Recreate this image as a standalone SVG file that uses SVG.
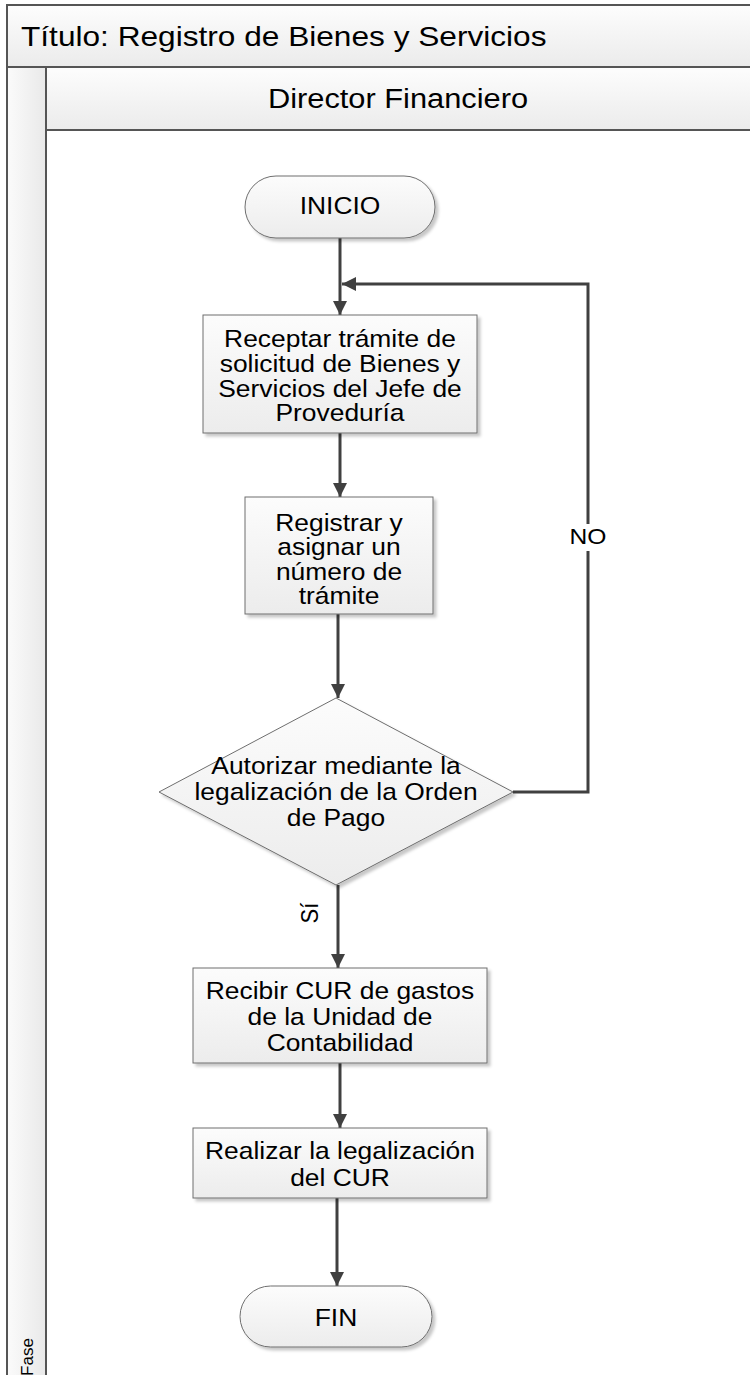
<svg xmlns="http://www.w3.org/2000/svg" width="750" height="1375" viewBox="0 0 750 1375">
<defs>
<linearGradient id="gV" x1="0" y1="0" x2="0" y2="1"><stop offset="0" stop-color="#fdfdfd"/><stop offset="1" stop-color="#ebebeb"/></linearGradient>
<linearGradient id="gH" x1="0" y1="0" x2="1" y2="0"><stop offset="0" stop-color="#fbfbfb"/><stop offset="1" stop-color="#e9e9e9"/></linearGradient>
<linearGradient id="gS" x1="0" y1="0" x2="0" y2="1"><stop offset="0" stop-color="#fcfcfc"/><stop offset="1" stop-color="#ececec"/></linearGradient>
<filter id="sh" x="-10%" y="-10%" width="130%" height="130%"><feDropShadow dx="3" dy="3" stdDeviation="1.5" flood-color="#000" flood-opacity="0.22"/></filter>
<marker id="ar" viewBox="0 0 10 10" refX="10" refY="5" markerWidth="14" markerHeight="16" markerUnits="userSpaceOnUse" orient="auto"><path d="M0,0 L10,5 L0,10 z" fill="#404040"/></marker>
<style>
.frame{stroke:#555;stroke-width:2}
.shape{fill:url(#gS);stroke:#6e6e6e;stroke-width:1;filter:url(#sh)}
.t{font-family:'Liberation Sans',Arial,sans-serif;font-size:24px;text-anchor:middle;fill:#000}
.big{font-size:28px}
.conn{fill:none;stroke:#404040;stroke-width:3;marker-end:url(#ar)}
</style>
</defs>
<g id="pool">
<rect class="frame" x="7" y="5" width="760" height="62" fill="url(#gV)"/>
<text class="t big" style="text-anchor:start" transform="translate(21,46) scale(1.13,1)">Título: Registro de Bienes y Servicios</text>
<rect class="frame" x="7" y="67" width="39" height="1330" fill="url(#gH)"/>
<rect class="frame" x="46" y="67" width="720" height="63" fill="url(#gV)"/>
<text class="t big" transform="translate(398,108) scale(1.1,1)">Director Financiero</text>
<rect class="frame" x="46" y="130" width="720" height="1270" fill="#fff"/>
<text transform="translate(33,1357) rotate(-90)" style="font-family:'Liberation Sans Narrow','Liberation Sans',Arial,sans-serif;font-size:17px;text-anchor:middle;fill:#000">Fase</text>
</g>
<g id="connectors">
<path class="conn" d="M340,238 V315"/>
<path class="conn" d="M513,792 H588 V284 H342"/>
<path class="conn" d="M340,433 V497"/>
<path class="conn" d="M338,614 V698"/>
<path class="conn" d="M338,885 V968"/>
<path class="conn" d="M340,1063 V1128"/>
<path class="conn" d="M337,1198 V1286"/>
<rect x="572" y="524" width="32" height="27" fill="#fff"/>
<text class="t" style="font-size:22px" transform="translate(588,544) scale(1.12,1)">NO</text>
<text class="t" style="font-size:22px" transform="translate(318,913) scale(1.12,1) rotate(-90)">Sí</text>
</g>
<g id="inicio">
<rect class="shape" x="245" y="176" width="190" height="62" rx="31" ry="31"/>
<text class="t" transform="translate(340,214) scale(1.1,1)">INICIO</text>
</g>
<g id="receptar">
<rect class="shape" x="203" y="315" width="274" height="118"/>
<text class="t" transform="translate(340,347) scale(1.1,1)">Receptar trámite de</text>
<text class="t" transform="translate(340,372) scale(1.1,1)">solicitud de Bienes y</text>
<text class="t" transform="translate(340,397) scale(1.1,1)">Servicios del Jefe de</text>
<text class="t" transform="translate(340,421) scale(1.1,1)">Proveduría</text>
</g>
<g id="registrar">
<rect class="shape" x="245" y="497" width="188" height="117"/>
<text class="t" transform="translate(339,531) scale(1.1,1)">Registrar y</text>
<text class="t" transform="translate(339,555) scale(1.1,1)">asignar un</text>
<text class="t" transform="translate(339,580) scale(1.1,1)">número de</text>
<text class="t" transform="translate(339,604) scale(1.1,1)">trámite</text>
</g>
<g id="autorizar">
<polygon class="shape" points="336,698 513,792 336,885 159,792"/>
<text class="t" transform="translate(336,774) scale(1.1,1)">Autorizar mediante la</text>
<text class="t" transform="translate(336,800) scale(1.1,1)">legalización de la Orden</text>
<text class="t" transform="translate(336,826) scale(1.1,1)">de Pago</text>
</g>
<g id="recibir">
<rect class="shape" x="193" y="968" width="294" height="95"/>
<text class="t" transform="translate(340,999) scale(1.1,1)">Recibir CUR de gastos</text>
<text class="t" transform="translate(340,1025) scale(1.1,1)">de la Unidad de</text>
<text class="t" transform="translate(340,1051) scale(1.1,1)">Contabilidad</text>
</g>
<g id="realizar">
<rect class="shape" x="193" y="1128" width="294" height="70"/>
<text class="t" transform="translate(340,1159) scale(1.1,1)">Realizar la legalización</text>
<text class="t" transform="translate(340,1186) scale(1.1,1)">del CUR</text>
</g>
<g id="fin">
<rect class="shape" x="240" y="1286" width="192" height="61" rx="30.5" ry="30.5"/>
<text class="t" transform="translate(336,1326) scale(1.1,1)">FIN</text>
</g>
</svg>
